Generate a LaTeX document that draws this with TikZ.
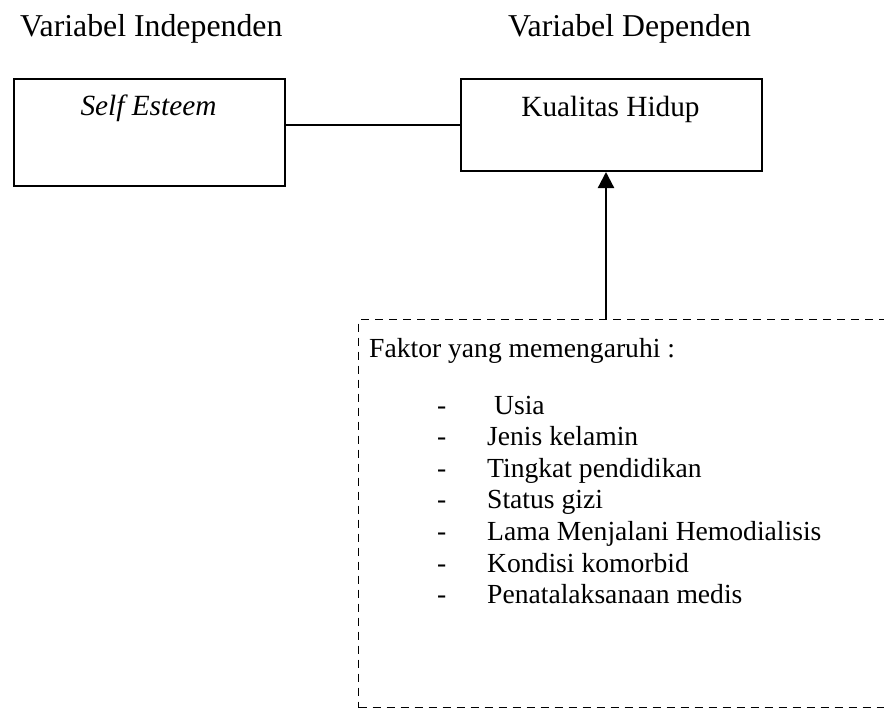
\documentclass[tikz,border=0pt]{standalone}
\usepackage{fontspec}
\setmainfont{Liberation Serif}
\usetikzlibrary{arrows.meta}
\begin{document}
\begin{tikzpicture}[x=1pt,y=-1pt,font=\fontsize{29.3}{33.7}\selectfont,
  solidbox/.style={draw,line width=2pt,inner sep=0pt,anchor=north west},
  dashbox/.style={draw,line width=1.3pt,dash pattern=on 8pt off 6pt,inner sep=0pt,anchor=north west},
  txt/.style={anchor=base west,inner sep=0pt},
  ctxt/.style={anchor=base,inner sep=0pt},
  headtxt/.style={txt,font=\fontsize{31.8}{36}\selectfont},
  listtxt/.style={txt,font=\fontsize{27.6}{31.6}\selectfont},
  conn/.style={line width=1.5pt},
  arr/.style={line width=2.2pt,-{Triangle[length=16pt,width=16pt]}}]
\useasboundingbox (0,0) rectangle (884,709);
\clip (0,0) rectangle (884,709);
% headings
\node[headtxt] (h1) at (20,37) {Variabel Independen};
\node[headtxt] (h2) at (508,37) {Variabel Dependen};
% boxes
\node[solidbox,minimum width=271pt,minimum height=107pt] (se) at (13,78) {};
\node[ctxt] (set) at (148.5,115) {\textit{Self Esteem}};
\node[solidbox,minimum width=301pt,minimum height=92pt] (kh) at (460,78) {};
\node[ctxt] (kht) at (610.5,116) {Kualitas Hidup};
\draw[conn] (se.east |- kh.west) -- (kh.west);
% factor box
\node[dashbox,minimum width=560pt,minimum height=388pt] (fk) at (358,319) {};
\coordinate (ar) at (606,319);
\draw[arr] (ar) -- (ar |- kh.south);
\node[listtxt] (ft) at (369,357) {Faktor yang memengaruhi :};
\foreach \t [count=\i] in {{\ Usia},{Jenis kelamin},{Tingkat pendidikan},{Status gizi},{Lama Menjalani Hemodialisis},{Kondisi komorbid},{Penatalaksanaan medis}}{
  \node[listtxt] (d\i) at (437,{414+31.6*(\i-1)}) {-};
  \node[listtxt] (i\i) at (487,{414+31.6*(\i-1)}) {\t};
}
\end{tikzpicture}
\end{document}
